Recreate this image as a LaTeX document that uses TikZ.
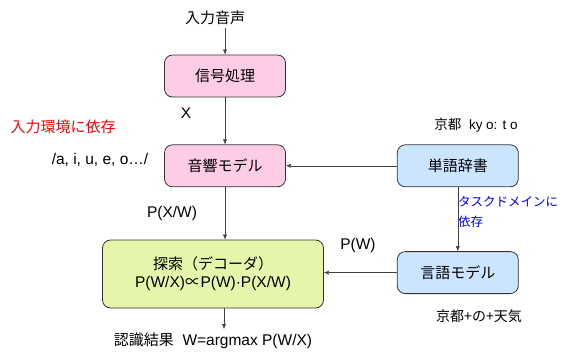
\documentclass[tikz,border=0pt]{standalone}
\usepackage{fontspec}
\setmainfont{Liberation Sans}
\newfontfamily\jp{Noto Sans CJK JP}
\usetikzlibrary{positioning,arrows.meta}

\definecolor{pinkfill}{RGB}{255,204,229}
\definecolor{bluefill}{RGB}{204,229,255}
\definecolor{greenfill}{RGB}{229,245,170}
\definecolor{redtext}{RGB}{255,0,0}
\definecolor{bluetext}{RGB}{0,0,255}

\tikzset{
  box/.style={draw=black!80, thick, rounded corners=8pt, minimum width=121pt,
    minimum height=42pt, font=\jp\fontsize{15}{18}\selectfont},
  pinkbox/.style={box, fill=pinkfill},
  bluebox/.style={box, fill=bluefill},
  flow/.style={draw=black!75, -{Latex[length=5pt,width=4pt]}},
  lbl/.style={font=\fontsize{15.5}{18}\selectfont},
  jlbl/.style={font=\jp\fontsize{15}{18}\selectfont},
}

\begin{document}
\begin{tikzpicture}[x=1pt, y=-1pt]
  \useasboundingbox (0,0) rectangle (561,354);

  \node (in) [jlbl] at (215,18) {入力音声};
  \node (sig) [pinkbox] at (225,76) {信号処理};
  \node (am) [pinkbox, below=47pt of sig] {音響モデル};
  \node (dic) [bluebox, right=111pt of am] {単語辞書};
  \node (lm) [bluebox, below=64pt of dic] {言語モデル};
  \node (dec) [box, fill=greenfill, minimum width=221pt, minimum height=68pt,
    align=center, font=\fontsize{15.5}{18}\selectfont] at (213,274)
    {{\jp\fontsize{15}{18}\selectfont 探索（デコーダ）}\\P(W/X){\jp ∝}P(W)·P(X/W)};
  \coordinate (out) at (224,329);
  \node (res) [lbl] at (213,341) {{\jp\fontsize{15}{18}\selectfont 認識結果}\ \ W=argmax P(W/X)};

  % labels
  \node (x) [lbl] at (186,113) {X};
  \node (env) [jlbl, text=redtext] at (63,127) {入力環境に依存};
  \node (vow) [lbl] at (100,160) {/a, i, u, e, o…/};
  \node (kyo) [lbl, font=\fontsize{13.5}{16}\selectfont] at (476,125)
    {{\jp 京都}\ \ ky o: t o};
  \node (pxw) [lbl] at (172,213) {P(X/W)};
  \node (task) [jlbl, font=\jp\fontsize{12.5}{20}\selectfont, text=bluetext,
    anchor=west, align=left, inner sep=1pt] at (457,212) {タスクドメインに\\依存};
  \node (pw) [lbl] at (358,245) {P(W)};
  \node (tenki) [jlbl, font=\jp\fontsize{14}{17}\selectfont] at (479,316) {京都+の+天気};

  % connectors
  \draw[flow] (in.south -| sig.north) -- (sig.north);
  \draw[flow] (sig) -- (am);
  \draw[flow] (dic) -- (am);
  \draw[flow] (dic) -- (lm);
  \draw[flow] (lm) -- (lm -| dec.east);
  \draw[flow] (am) -- (am |- dec.north);
  \draw[flow] (dec.south -| out) -- (out);
\end{tikzpicture}
\end{document}
